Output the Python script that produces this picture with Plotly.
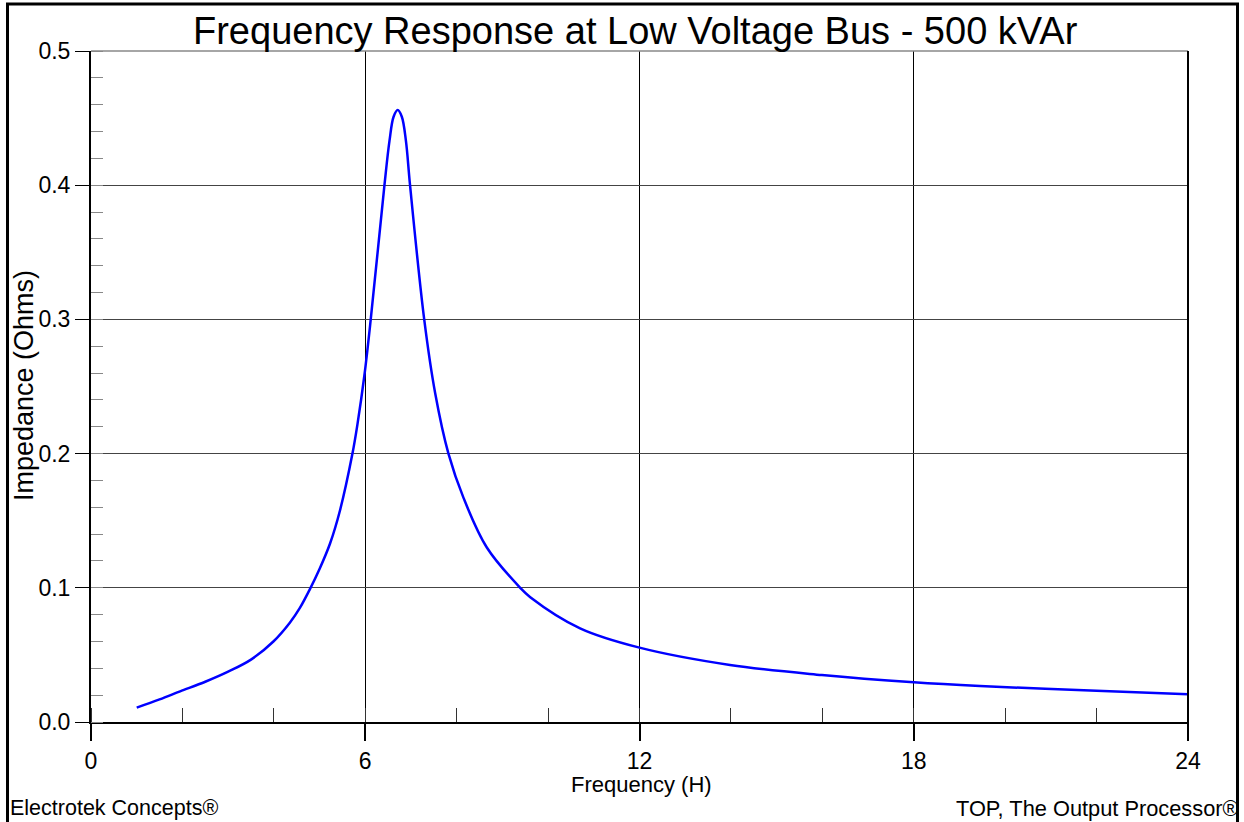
import plotly.graph_objects as go

# Data
harmonic = [1.0, 1.5, 1.95, 2.5, 3.0, 3.5, 3.99, 4.35, 4.57, 4.79, 5.0, 5.23, 5.45,
            5.72, 5.83, 5.98, 6.12, 6.42, 6.53, 6.62, 6.71, 6.80, 6.89, 6.98, 7.29,
            7.53, 7.82, 8.15, 8.66, 9.39, 9.61, 10.70, 12.0, 13.98, 15.99, 18.0,
            19.45, 22.0, 24.0]
impedance = [0.0107, 0.0168, 0.0228, 0.0300, 0.0375, 0.0465, 0.060, 0.074, 0.085, 0.099,
             0.114, 0.133, 0.158, 0.200, 0.222, 0.258, 0.300, 0.400, 0.433, 0.451,
             0.456, 0.451, 0.433, 0.400, 0.300, 0.245, 0.200, 0.167, 0.130, 0.100,
             0.093, 0.0698, 0.0554, 0.0425, 0.0350, 0.0296, 0.0268, 0.0232, 0.0206]

x_tick_vals = [0, 6, 12, 18, 24]
x_tick_text = ["0", "6", "12", "18", "24"]
y_tick_vals = [0.0, 0.1, 0.2, 0.3, 0.4, 0.5]
y_tick_text = ["0.0", "0.1", "0.2", "0.3", "0.4", "0.5"]

title_text = "Frequency Response at Low Voltage Bus - 500 kVAr"
x_title = "Frequency (H)"
y_title = "Impedance (Ohms)"
footer_left = "Electrotek Concepts®"
footer_right = "TOP, The Output Processor®"

FONT = "Liberation Sans, Arial, sans-serif"

W, H = 1244, 822
L, R, T, B = 91, 1188, 51, 722
PW, PH = R - L, B - T


def px(xp):
    return (xp - L) / PW


def py(yp):
    return (B - yp) / PH


fig = go.Figure()
fig.add_trace(go.Scatter(
    x=harmonic, y=impedance, mode="lines",
    line=dict(color="#0000FF", width=2.5, shape="spline", smoothing=1.0),
    hoverinfo="x+y", showlegend=False,
))

fig.update_layout(
    width=W, height=H, autosize=False,
    margin=dict(l=L, r=W - R, t=T, b=H - B, pad=0),
    paper_bgcolor="white", plot_bgcolor="white",
    font=dict(family=FONT, size=22, color="black"),
    showlegend=False,
    xaxis=dict(
        range=[0, 24], tickvals=x_tick_vals, ticktext=x_tick_text,
        ticks="outside", ticklen=17, tickwidth=1.5, tickcolor="black",
        showline=True, linecolor="black", linewidth=2,
        showgrid=True, gridcolor="black", gridwidth=1,
        zeroline=False, tickfont=dict(size=23, family=FONT),
        minor=dict(dtick=2, ticks="inside", ticklen=14, tickwidth=1,
                   tickcolor="#333333", showgrid=False),
        fixedrange=True,
    ),
    yaxis=dict(
        range=[0, 0.5], tickvals=y_tick_vals, ticktext=y_tick_text,
        ticks="outside", ticklen=14, tickwidth=1, tickcolor="black",
        showline=True, linecolor="black", linewidth=2,
        showgrid=True, gridcolor="#444444", gridwidth=1.2,
        zeroline=False, tickfont=dict(size=23, family=FONT),
        minor=dict(dtick=0.02, ticks="inside", ticklen=12, tickwidth=1.2,
                   tickcolor="#888888", showgrid=False),
        fixedrange=True,
    ),
)

shapes = [
    # top edge of plot (gray)
    dict(type="line", xref="paper", yref="paper", x0=0, x1=1, y0=1, y1=1,
         line=dict(color="#888888", width=1.5)),
    # right edge of plot (black)
    dict(type="line", xref="paper", yref="paper", x0=1, x1=1, y0=py(739), y1=1,
         line=dict(color="black", width=2)),
    # outer frame
    dict(type="rect", xref="paper", yref="paper",
         x0=px(7.5), x1=px(1237.5), y0=py(840), y1=py(4),
         line=dict(color="black", width=3), fillcolor="rgba(0,0,0,0)"),
]
fig.update_layout(shapes=shapes)

annotations = [
    dict(text=title_text, xref="paper", yref="paper", x=px(635), y=py(31),
         xanchor="center", yanchor="middle", showarrow=False,
         font=dict(size=38, family=FONT, color="black")),
    dict(text=y_title, xref="paper", yref="paper", x=px(24), y=py(386),
         xanchor="center", yanchor="middle", textangle=-90, showarrow=False,
         font=dict(size=27, family=FONT, color="black")),
    dict(text=x_title, xref="paper", yref="paper", x=px(641), y=py(784),
         xanchor="center", yanchor="middle", showarrow=False,
         font=dict(size=22, family=FONT, color="black")),
    dict(text=footer_left, xref="paper", yref="paper", x=px(8), y=py(808),
         xanchor="left", yanchor="middle", showarrow=False,
         font=dict(size=21.5, family=FONT, color="black")),
    dict(text=footer_right, xref="paper", yref="paper", x=px(1241), y=py(808),
         xanchor="right", yanchor="middle", showarrow=False,
         font=dict(size=21.8, family=FONT, color="black")),
]
fig.update_layout(annotations=annotations)

fig.write_html(
    "out.html",
    config={"displayModeBar": False},
    post_script="document.body.style.margin='0px';document.body.style.padding='0px';document.body.style.overflow='hidden';",
)
